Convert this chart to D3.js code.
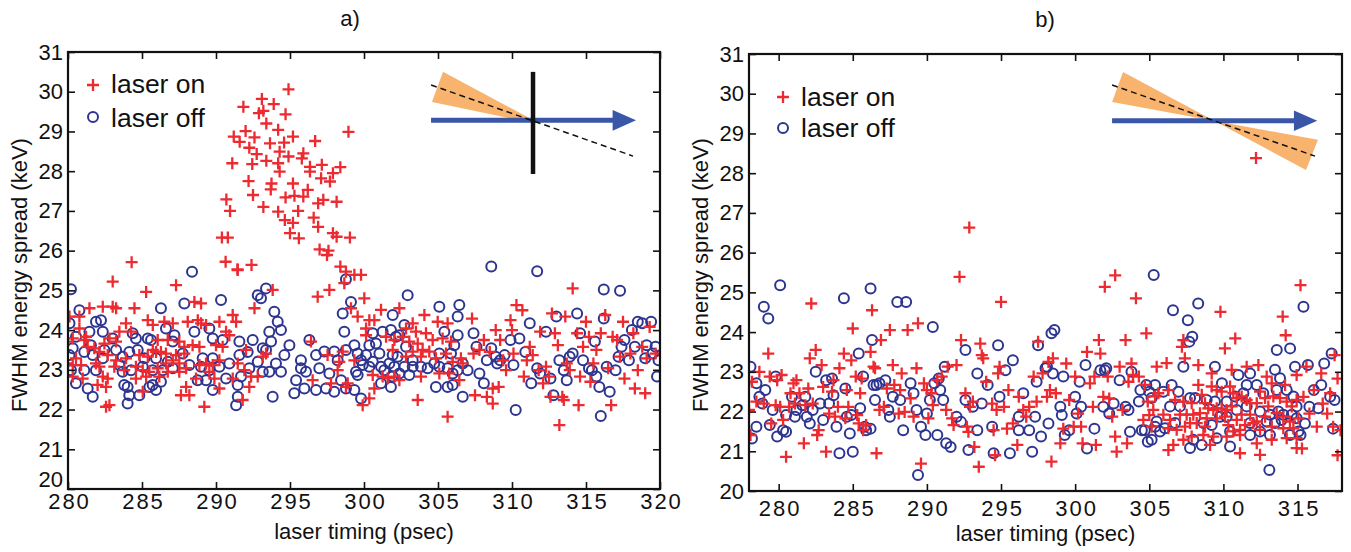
<!DOCTYPE html>
<html><head><meta charset="utf-8">
<script src="https://cdn.jsdelivr.net/npm/d3@7"></script>
<style>body{margin:0;background:#fff} text{font-family:"Liberation Sans",Arial,Helvetica,sans-serif;fill:#111}</style>
</head><body><svg id="c" width="1351" height="552"></svg>
<script>
// ---------------- data (x = laser timing psec, y = FWHM keV) ----------------
const aOn = [
[294.9,30.06],[291.85,29.62],[293.1,29.82],[293.9,29.69],[292.9,29.46],[293.2,29.52],[294.7,29.43],[293.4,29.2],[294.2,29.04],[292.0,29.01],[291.2,28.87],[291.6,28.74],[292.6,28.85],[295.2,28.87],[294.6,28.72],[293.65,28.7],[296.7,28.76],[292.25,28.59],[294.3,28.49],[295.9,28.45],[294.9,28.37],[292.75,28.43],[295.8,28.32],[291.1,28.2],[292.45,28.18],[293.4,28.26],[294.2,28.2],[296.35,28.11],[297.15,28.16],[298.4,28.1],[297.9,27.95],[296.35,27.99],[294.3,27.99],[297.1,27.82],[297.7,27.74],[292.2,27.75],[293.75,27.69],[295.2,27.69],[293.7,27.54],[296.2,27.53],[290.7,27.29],[292.5,27.4],[294.7,27.34],[295.3,27.38],[295.9,27.36],[297.25,27.28],[298.15,27.23],[290.95,27.0],[293.2,27.1],[294.2,26.98],[295.55,27.0],[296.9,27.19],[294.65,26.77],[295.2,26.7],[296.6,26.83],[296.9,26.6],[290.4,26.33],[290.8,26.33],[295.0,26.44],[295.6,26.31],[297.9,26.44],[299.05,26.33],[298.15,26.35],[297.0,26.03],[297.6,26.0],[297.5,25.89],[290.65,25.72],[291.45,25.53],[292.4,25.64],[298.4,25.6],[298.95,28.99],[284.3,25.71],
[283.02,25.22],[287.3,25.13],[285.28,24.96],[288.54,24.71],[288.99,24.67],[282.35,24.59],[283.02,24.59],[283.25,24.55],[281.45,24.55],[284.49,24.55],[292.6,24.55],[291.13,24.38],[280.1,24.34],[280.77,24.34],[291.36,24.21],[283.92,24.17],[285.39,24.25],[285.73,24.13],[286.51,24.21],[287.08,24.17],[288.09,24.21],[288.77,24.25],[288.99,24.17],[289.33,24.13],[290.23,24.21],[280.77,24.04],[283.47,23.96],[284.26,23.96],[282.8,23.79],[280.32,23.79],[281.1,23.75],[282.46,23.66],[283.25,23.71],[290.68,23.96],[290.9,23.87],[279.98,23.71],[281.33,23.58],[281.78,23.54],[282.12,23.45],[281.22,23.83],[286.06,23.75],[286.74,23.75],[287.52,23.71],[287.86,23.58],[288.42,23.62],[288.88,23.58],[290.0,23.62],[290.45,23.58],[292.03,23.5],[285.73,23.5],[285.95,23.45],[285.39,23.33],[286.28,23.45],[286.62,23.41],[287.3,23.37],[287.86,23.41],[284.82,23.37],[283.92,23.29],[283.25,23.24],[282.68,23.37],[280.54,23.29],[279.87,23.16],[280.32,23.12],[280.88,23.12],[281.89,23.16],[282.12,23.08],[283.13,23.08],[283.8,22.99],[284.59,23.08],[285.05,22.99],[285.5,22.95],[286.06,23.04],[286.62,23.16],[287.08,23.24],[287.52,23.16],[287.98,23.04],[288.88,23.12],[289.33,23.16],[289.78,23.12],[290.23,23.24],[291.47,23.16],[291.92,22.99],[280.32,22.83],[280.99,22.78],[282.35,22.83],[282.68,22.78],[284.59,22.78],[285.28,22.83],[286.17,22.83],[286.74,22.95],[287.52,22.95],[289.55,22.95],[289.89,22.78],[288.65,22.78],[291.13,22.78],[292.37,22.83],[292.82,22.83],[282.0,22.62],[282.57,22.57],[285.05,22.45],[287.63,22.36],[288.2,22.36],[287.98,22.57],[290.23,22.53],[292.25,22.57],[282.57,22.07],[282.8,22.11],[289.21,22.07],[291.8,22.24],[291.47,25.51],[293.16,23.33],
[298.78,25.47],[299.35,25.39],[299.8,25.39],[298.67,25.18],[293.83,25.01],[296.87,24.84],[297.66,25.01],[300.02,24.8],[299.12,24.55],[299.57,24.34],[301.15,24.51],[302.39,24.55],[304.08,24.38],[304.98,24.21],[305.65,24.17],[300.36,24.25],[300.14,24.04],[300.7,24.25],[296.42,23.71],[302.84,24.04],[303.29,24.17],[303.51,23.96],[304.19,23.92],[304.64,23.75],[305.31,23.79],[305.88,23.71],[301.49,23.83],[302.05,23.75],[302.61,23.83],[300.14,23.87],[303.06,23.71],[303.63,23.66],[303.96,23.5],[303.29,23.46],[302.84,23.33],[303.85,23.33],[304.41,23.46],[304.86,23.29],[305.54,23.41],[305.99,23.2],[306.55,23.29],[306.67,23.16],[301.94,23.5],[298.56,23.46],[297.54,23.37],[299.35,23.24],[298.33,23.2],[298.22,22.99],[296.53,22.74],[297.77,22.66],[298.78,22.57],[298.9,22.66],[300.59,22.87],[301.26,22.83],[301.6,22.79],[302.05,22.83],[302.39,22.74],[303.85,22.83],[305.09,22.91],[305.76,22.91],[306.44,22.74],[300.7,22.53],[300.36,22.28],[299.91,22.11],[303.63,22.24],[305.65,21.82],[293.38,23.41],
[307.3,24.29],[307.4,23.41],[307.5,22.36],[307.8,23.5],[308.1,23.75],[308.3,22.32],[308.5,23.45],[308.7,22.53],[308.7,22.15],[308.9,24.0],[309.1,22.57],[309.2,23.75],[309.4,23.24],[309.6,22.99],[309.9,24.25],[310.0,24.0],[310.1,23.41],[310.3,24.63],[310.7,24.5],[310.8,22.83],[311.0,23.24],[311.2,23.58],[311.4,23.37],[311.8,22.99],[311.9,23.96],[312.1,22.66],[312.3,23.08],[312.5,22.83],[312.6,22.32],[312.7,24.42],[312.9,23.92],[313.1,23.62],[313.2,21.61],[313.4,22.32],[313.5,22.24],[313.6,24.34],[313.7,23.16],[313.9,22.99],[314.1,25.05],[314.4,23.92],[314.5,22.11],[314.6,22.83],[314.8,23.58],[315.0,24.21],[315.2,23.83],[315.3,22.7],[315.5,23.16],[315.7,23.5],[316.0,23.92],[316.3,24.38],[316.5,23.04],[316.7,22.11],[316.8,23.83],[317.1,23.75],[317.3,23.33],[317.5,24.21],[317.6,22.78],[318.0,23.41],[318.2,23.92],[318.3,22.53],[318.5,22.99],[318.8,23.58],[319.0,22.41],[319.1,23.29],[319.3,24.08],[319.7,23.41]
];
const aOff = [
[280.2,25.03],[288.38,25.47],[286.28,24.55],[287.86,24.67],[290.34,24.76],[292.82,24.88],[293.04,24.8],[280.77,24.5],[281.89,24.21],[282.23,24.25],[282.35,23.96],[281.45,23.96],[280.1,24.17],[280.54,23.83],[283.02,23.79],[284.37,23.92],[284.59,23.79],[285.39,23.79],[285.61,23.75],[286.62,24.04],[287.19,23.87],[287.08,23.71],[288.54,23.96],[289.55,24.04],[289.78,23.79],[290.45,23.75],[291.58,23.71],[292.48,23.75],[293.16,23.54],[280.32,23.54],[280.1,23.37],[281.1,23.45],[281.55,23.62],[282.46,23.5],[283.25,23.5],[283.69,23.33],[284.14,23.45],[284.71,23.5],[285.16,23.29],[282.35,23.29],[281.67,23.37],[285.95,23.29],[286.74,23.2],[287.75,23.41],[289.1,23.29],[289.78,23.29],[290.9,23.16],[291.58,23.37],[292.14,23.45],[292.82,23.2],[280.2,22.99],[281.1,22.99],[281.89,22.99],[283.47,23.12],[283.69,22.95],[284.26,22.99],[285.05,23.08],[285.72,22.99],[286.4,22.99],[287.08,23.04],[288.2,23.12],[288.99,23.08],[289.55,22.99],[290.23,23.08],[292.25,23.04],[293.16,22.95],[280.54,22.66],[281.33,22.53],[281.67,22.32],[283.8,22.62],[284.03,22.57],[284.14,22.36],[285.5,22.57],[285.72,22.62],[285.95,22.49],[286.28,22.7],[288.76,22.74],[289.33,22.74],[290.68,22.78],[291.47,22.62],[291.69,22.83],[284.03,22.15],[291.47,22.32],[291.36,22.11],[289.78,22.49],[284.82,22.36],
[293.38,25.05],[293.94,24.46],[294.17,24.21],[294.39,24.0],[293.6,23.96],[293.72,23.71],[293.38,23.5],[294.96,23.62],[294.62,23.37],[294.05,23.16],[293.6,22.95],[294.39,22.95],[293.83,22.32],[295.74,23.24],[295.74,23.04],[296.08,22.95],[295.41,22.74],[295.97,22.53],[295.29,22.41],[296.98,23.04],[296.76,23.37],[297.32,23.46],[297.66,22.91],[297.99,23.46],[298.22,23.24],[298.78,23.5],[299.35,23.62],[299.57,23.41],[299.8,23.24],[299.91,23.12],[299.46,22.95],[299.57,22.87],[300.36,23.62],[300.14,23.37],[300.36,23.08],[300.59,23.2],[301.04,23.41],[301.15,23.08],[301.37,22.99],[301.71,23.16],[301.94,23.37],[302.05,23.08],[302.27,23.33],[302.39,22.91],[298.45,22.74],[297.99,22.45],[297.43,22.53],[296.76,22.49],[298.78,22.53],[299.35,22.49],[299.8,22.28],[300.59,23.92],[300.81,23.66],[301.26,23.96],[301.82,24.0],[302.16,23.83],[302.73,24.13],[302.39,23.87],[302.84,23.58],[303.29,23.24],[302.73,23.08],[303.29,23.08],[303.85,23.08],[304.3,23.04],[304.75,23.16],[305.09,23.08],[305.65,23.04],[305.99,22.91],[306.33,22.99],[306.67,23.16],[305.09,23.41],[305.88,23.41],[306.1,23.62],[306.33,23.87],[305.43,23.96],[305.09,24.59],[306.44,24.63],[306.33,24.34],[302.95,24.88],[301.94,24.38],[299.12,24.71],[298.56,24.42],[298.78,25.28],[296.31,23.75],[298.67,23.96],[301.15,22.66],[301.82,22.57],[301.94,22.83],[303.06,22.87],[304.86,22.57],[305.65,22.57],[305.99,22.62],[306.67,22.32],
[307.0,22.99],[307.4,23.92],[307.6,23.58],[307.8,22.91],[308.1,22.66],[308.3,23.24],[308.6,23.54],[308.9,23.33],[309.0,23.16],[309.2,23.24],[309.5,23.37],[309.9,23.75],[310.1,23.12],[310.25,21.99],[310.5,23.79],[310.9,23.45],[311.2,24.17],[311.3,22.66],[311.7,23.04],[311.9,22.91],[312.3,23.96],[312.6,22.78],[312.8,22.36],[313.0,24.34],[313.2,23.24],[313.5,22.99],[313.7,22.74],[313.9,23.33],[314.1,23.41],[314.4,24.42],[314.6,23.92],[314.8,23.24],[315.2,23.04],[315.4,22.99],[315.6,23.71],[315.7,22.83],[315.9,22.57],[316.0,21.84],[316.2,24.29],[316.4,23.08],[316.6,22.45],[317.0,22.99],[317.2,23.33],[317.4,23.58],[317.6,23.75],[317.9,23.24],[318.1,24.0],[318.3,23.58],[318.5,24.21],[318.8,24.17],[319.0,23.29],[319.1,23.62],[319.4,24.21],[319.5,23.41],[319.7,23.58],[319.9,23.24],[319.8,22.83],[316.2,25.02],[317.3,24.99],[308.6,25.6],[311.7,25.48]
];
const bOn = [
[292.86,26.63],[312.2,28.38],
[278.0,22.04],[278.1,21.41],[278.2,22.75],[278.5,22.25],[278.7,23.0],[279.0,22.2],[279.3,23.46],[279.4,22.88],[279.5,21.7],[279.8,22.16],[279.9,22.79],[280.1,22.12],[280.2,22.92],[280.3,21.79],[280.5,20.86],[280.7,22.12],[280.8,22.46],[281.0,22.71],[281.1,22.2],[281.2,22.79],[281.4,22.46],[281.7,21.2],[281.8,22.16],[282.0,22.58],[282.1,23.34],[282.2,24.72],[282.3,22.2],[282.5,23.55],[282.6,21.41],[282.7,21.53],[282.9,23.17],[283.0,22.62],[283.2,20.99],[283.4,21.95],[283.6,22.5],[283.7,22.79],[283.8,21.87],[284.0,22.12],[284.1,23.09],[284.4,23.46],[284.5,21.83],[284.6,22.54],[284.7,22.12],[284.9,23.29],[285.0,24.09],[285.2,22.88],[285.3,21.91],[285.4,21.7],[285.5,22.46],[285.6,22.83],[285.7,21.53],[285.9,21.66],[286.2,23.5],[286.3,24.55],[286.4,23.13],[286.5,23.09],[286.6,20.95],[286.8,22.04],[286.9,23.8],[287.1,22.12],[287.3,22.58],[287.5,24.05],[287.7,23.17],[287.8,22.67],[288.1,21.95],[288.2,22.54],[288.3,22.96],[288.5,21.99],[288.7,24.05],[288.9,22.33],[289.1,21.87],[289.3,23.09],[289.4,24.22],[289.6,20.69],[289.8,22.71],[290.0,22.54],[290.1,21.83],[290.3,22.46],[290.4,22.16],[290.7,22.79],[291.0,22.88],[291.3,22.04],[291.4,23.13],[291.7,21.83],[291.8,21.66],[292.0,23.17],[292.2,25.39],[292.3,23.8],[292.6,22.46],[292.7,21.62],[292.8,21.49],[292.9,22.12],[293.1,22.25],[293.2,21.11],[293.5,20.61],[293.6,23.71],[293.7,23.42],[293.8,23.34],[294.0,22.75],[294.4,22.2],[294.5,21.53],[294.6,20.9],[294.7,22.04],[294.8,22.96],[294.9,23.13],[295.0,24.76],[295.2,22.12],[295.4,21.57],[295.5,22.54],[295.8,21.7],[296.1,21.16],[296.2,22.37],
[296.5,22.04],[296.7,21.87],[296.9,22.12],[297.2,22.88],[297.4,22.25],[297.5,23.76],[297.8,22.96],[298.1,22.37],[298.2,23.25],[298.3,22.54],[298.4,20.74],[298.5,23.34],[298.7,22.46],[299.0,21.2],[299.2,21.57],[299.4,23.21],[299.6,22.29],[299.9,21.62],[300.0,22.88],[300.2,21.95],[300.4,21.62],[300.5,21.2],[300.8,23.5],[301.0,22.71],[301.2,22.12],[301.3,22.88],[301.4,21.16],[301.6,23.8],[301.7,23.46],[301.9,22.37],[302.2,22.88],[302.3,22.33],[302.0,25.14],[302.7,25.43],[302.5,21.87],[302.7,21.37],[302.8,20.99],[303.0,23.13],[303.2,22.04],[303.4,23.8],[303.5,21.2],[303.6,22.75],[303.8,23.21],[303.9,22.92],[304.1,24.85],[304.3,22.88],[304.6,21.79],[304.7,22.67],[304.8,23.97],[304.9,22.25],[305.0,21.91],
[307.2,23.63],[307.3,23.8],[307.4,23.34],[309.8,24.51],[310.1,23.59],[310.8,23.84],[314.0,24.39],[314.2,23.92],[315.2,25.18],
[305.5,23.13],[306.17,23.22],[308.31,23.17],[309.21,22.96],[310.56,23.05],[311.57,23.13],[312.36,23.17],[312.92,22.88],[313.26,22.71],[314.16,22.67],[314.94,22.92],[305.39,22.38],[305.61,22.46],[306.29,22.54],[306.74,22.29],[307.3,22.25],[307.86,22.21],[308.31,22.67],[308.54,22.42],[308.76,22.21],[309.21,22.63],[309.55,22.54],[309.88,22.5],[310.45,22.63],[310.67,22.46],[308.98,22.08],[309.32,22.04],[309.55,22.08],[309.88,22.08],[310.22,22.04],[310.56,22.13],[310.9,22.34],[311.23,22.38],[311.57,22.29],[311.8,22.21],[312.25,22.21],[312.47,22.5],[312.81,22.34],[313.03,22.13],[313.37,22.38],[313.82,22.34],[314.27,22.25],[314.61,22.13],[314.94,22.29],[305.27,22.04],[305.95,21.92],[306.4,21.79],[307.07,21.92],[307.52,21.92],[307.97,21.92],[308.42,21.96],[308.87,21.83],[309.55,21.83],[310.11,21.87],[310.9,21.79],[311.23,21.92],[311.8,21.92],[312.25,21.75],[312.81,21.87],[313.59,21.96],[314.04,21.87],[314.49,21.75],[315.06,21.83],[305.16,21.62],[306.29,21.58],[306.85,21.54],[307.41,21.62],[307.75,21.71],[308.2,21.71],[308.76,21.62],[310.33,21.66],[310.67,21.5],[311.12,21.54],[311.46,21.66],[312.02,21.71],[312.47,21.54],[313.26,21.62],[314.04,21.58],[314.72,21.58],[307.3,21.29],[307.86,21.37],[308.65,21.41],[309.32,21.37],[310.22,21.37],[311.12,21.41],[312.25,21.2],[313.26,21.29],[314.27,21.33],[314.94,21.33],[306.62,21.16],[306.29,21.03],[309.1,21.16],[311.12,20.95],[312.47,20.91],[314.94,21.08],
[315.3,21.07],[315.4,22.37],[315.6,23.13],[315.8,21.95],[316.1,22.54],[316.3,21.62],[316.6,22.96],[316.7,22.2],[317.0,21.95],[317.2,22.46],[317.4,21.62],[317.5,23.42],[317.7,22.83],[317.9,21.53],[317.7,20.9]
];
const bOff = [
[278.1,23.13],[278.2,21.32],[278.5,22.71],[278.7,22.37],[278.5,21.62],[278.9,22.2],[279.0,24.64],[279.3,24.34],[279.1,22.54],[279.4,21.66],[279.6,22.04],[279.8,22.88],[279.9,21.37],[280.1,25.18],[280.3,21.53],[280.5,21.49],[280.5,21.91],[280.9,22.37],[281.1,21.87],[281.2,22.04],[281.6,22.16],[281.8,22.37],[281.9,21.87],[282.1,21.7],[282.3,22.04],[282.5,23.0],[282.8,22.2],[283.0,21.79],[283.2,22.79],[283.4,22.2],[283.6,22.83],[283.7,22.41],[283.9,21.62],[284.1,20.95],[284.4,24.85],[284.5,22.58],[284.6,21.87],[284.8,21.45],[284.9,21.91],[285.0,20.99],[285.4,23.46],[285.5,22.08],[285.7,22.88],[285.8,21.62],[285.9,21.53],[286.2,21.57],[286.2,25.1],[286.3,23.8],[286.4,22.67],[286.5,22.29],[286.6,22.67],[286.8,22.71],[287.2,22.79],[287.4,22.04],[287.5,21.87],[287.7,22.37],[288.0,24.76],[288.2,22.29],[288.4,21.53],[288.6,24.76],[288.9,22.71],[289.1,22.46],[289.3,22.04],[289.4,20.4],[289.6,21.62],[289.9,21.41],[290.0,21.95],[290.2,22.29],[290.4,24.13],[290.5,22.71],[290.7,21.41],[290.8,22.83],[290.9,22.54],[291.1,22.29],[291.2,23.13],[291.3,21.2],[291.6,21.11],[292.0,21.87],[292.3,21.74],[292.6,22.29],[292.6,23.55],[292.8,21.03],[293.1,22.12],[293.4,21.53],[293.4,22.96],[293.7,22.2],[294.1,22.67],[294.4,21.62],[294.5,20.95],[294.8,23.67],[294.9,22.37],[295.3,23.04],[295.6,20.95],[295.8,23.29],[296.2,21.87],[296.2,21.53],
[296.5,22.46],[296.9,21.53],[297.1,20.99],[297.3,21.87],[297.5,23.67],[297.4,22.75],[297.7,21.37],[298.0,23.09],[298.1,23.13],[298.2,21.7],[298.4,23.97],[298.6,24.05],[298.5,22.96],[299.0,22.12],[299.1,21.91],[299.2,22.88],[299.3,21.41],[299.6,21.53],[300.0,22.37],[300.1,21.95],[300.3,22.75],[300.4,22.12],[300.7,23.17],[300.8,21.07],[301.3,21.57],[301.7,23.04],[301.9,22.12],[302.0,23.04],[302.1,23.09],[302.3,21.95],[302.6,22.2],[303.0,22.79],[303.4,22.12],[303.6,22.04],[303.7,21.49],[303.8,23.0],[304.3,22.25],[304.4,22.54],[304.5,21.53],[304.7,21.53],[304.8,22.67],[304.9,21.24],[305.0,22.5],
[306.6,24.55],[307.6,24.3],[307.7,23.76],[307.9,23.88],[308.3,24.72],[313.1,20.53],[313.6,23.55],[314.5,23.59],
[307.3,23.13],[309.43,23.13],[311.01,22.92],[311.8,22.96],[313.48,23.05],[314.83,23.13],[305.39,22.67],[306.51,22.67],[306.96,22.5],[305.95,22.5],[305.16,22.34],[309.9,22.71],[310.78,22.38],[311.35,22.46],[311.57,22.67],[312.25,22.67],[312.69,22.46],[313.59,22.54],[313.82,22.84],[314.27,22.54],[314.72,22.38],[314.94,22.13],[306.4,22.13],[307.07,22.13],[307.75,22.34],[308.09,22.34],[308.87,22.29],[309.43,22.25],[310.22,22.25],[310.9,22.04],[311.57,22.13],[312.47,22.0],[313.14,21.92],[313.71,22.0],[314.04,21.92],[314.61,21.92],[314.94,21.83],[305.5,21.75],[305.39,21.62],[306.06,21.58],[306.74,21.71],[308.65,21.71],[309.21,21.66],[309.77,21.87],[310.22,21.87],[311.8,21.71],[312.92,21.75],[313.48,21.71],[313.93,21.79],[305.72,21.5],[305.16,21.29],[307.97,21.29],[309.55,21.33],[310.45,21.5],[311.8,21.41],[312.47,21.5],[313.14,21.41],[314.49,21.41],[315.06,21.5],[307.75,21.08],[308.54,21.16],[310.45,21.12],
[315.2,21.41],[315.4,24.64],[315.5,21.7],[315.7,23.17],[315.8,22.12],[316.1,22.54],[316.4,22.08],[316.6,22.67],[316.8,23.21],[317.2,22.37],[317.3,23.46],[317.4,21.57],[317.5,22.29],[305.3,25.44]
];
const xTicksA = [280,285,290,295,300,305,310,315,320];
const xTicksB = [280,285,290,295,300,305,310,315];
const yTicks = [20,21,22,23,24,25,26,27,28,29,30,31];
const legendLabels = ["laser on","laser off"];
const titles = ["a)","b)"];
const xLabel = "laser timing (psec)";
const yLabel = "FWHM energy spread (keV)";
// inset sketches, in data units
const insetAWedge = [[305.34,30.50],[311.42,29.29],[311.42,29.21],[304.59,29.74]];
const insetADash = [[304.53,30.17],[318.18,28.38]];
const insetAArrow = [304.53,316.8,318.38,29.28,0.26];   // x0, head base, tip, y, half height
const insetABar = [311.42,30.50,27.93];
const insetBWedge = [[303.23,30.55],[315.57,28.08],[316.38,28.84],[302.49,29.79]];
const insetBDash = [[302.49,30.22],[316.18,28.43]];
const insetBArrow = [302.49,314.76,316.33,29.32,0.26];

// ---------------- drawing ----------------
const RED = '#ec2a30', BLUE = '#2d3590', ORANGE = '#f8b46e', ARROW = '#3a57a7';
const svg = d3.select('#c');
const defs = svg.append('defs');
const FONT = '"Liberation Sans",Arial,sans-serif';

function panel(o){
  const x = d3.scaleLinear().domain(o.xDomain).range([o.l, o.r]);
  const y = d3.scaleLinear().domain([20,31]).range([o.b, o.t]);
  const g = svg.append('g');
  const cid = 'clip' + o.id;
  defs.append('clipPath').attr('id', cid).append('rect')
    .attr('x', o.l).attr('y', o.t).attr('width', o.r - o.l).attr('height', o.b - o.t);

  // inset sketch
  const ins = g.append('g');
  const line = d3.line().x(d => x(d[0])).y(d => y(d[1]));
  ins.append('path').attr('d', line(o.wedge) + 'Z').attr('fill', ORANGE).attr('stroke', 'none');
  const ar = o.arrow;
  ins.append('line').attr('x1', x(ar[0])).attr('x2', x(ar[1]) + 1).attr('y1', y(ar[3])).attr('y2', y(ar[3]))
    .attr('stroke', ARROW).attr('stroke-width', 5);
  ins.append('path').attr('d', line([[ar[1], ar[3] + ar[4]], [ar[2], ar[3]], [ar[1], ar[3] - ar[4]]]) + 'Z')
    .attr('fill', ARROW);
  ins.append('path').attr('d', line(o.dash)).attr('fill', 'none').attr('stroke', '#111')
    .attr('stroke-width', 1.5).attr('stroke-dasharray', '6,4');
  if (o.bar) {
    ins.append('line').attr('x1', x(o.bar[0])).attr('x2', x(o.bar[0]))
      .attr('y1', y(o.bar[1])).attr('y2', y(o.bar[2])).attr('stroke', '#111').attr('stroke-width', 4.5);
  }

  // points
  const pts = g.append('g').attr('clip-path', `url(#${cid})`);
  pts.selectAll('circle').data(o.off).join('circle')
    .attr('cx', d => x(d[0])).attr('cy', d => y(d[1])).attr('r', 5)
    .attr('fill', 'none').attr('stroke', BLUE).attr('stroke-width', 2);
  const h = 6;
  pts.selectAll('path.p').data(o.on).join('path').attr('class', 'p')
    .attr('d', d => `M${x(d[0]) - h},${y(d[1])}H${x(d[0]) + h}M${x(d[0])},${y(d[1]) - h}V${y(d[1]) + h}`)
    .attr('stroke', RED).attr('stroke-width', 2.3).attr('fill', 'none');

  // axes (ticks inward on all four sides)
  const ax = (gen, tr, labels) => {
    const a = g.append('g').attr('transform', tr).call(gen);
    a.select('.domain').remove();
    a.selectAll('.tick line').attr('stroke', '#111').attr('stroke-width', 1.6);
    if (!labels) a.selectAll('text').remove();
    return a;
  };
  const bx = ax(d3.axisBottom(x).tickValues(o.xTicks).tickSize(-7).tickPadding(o.xPad).tickFormat(d3.format('d')),
    `translate(0,${o.b})`, true);
  bx.selectAll('text').attr('font-size', 22).attr('letter-spacing', '2px').attr('fill', '#111')
    .attr('font-family', FONT).attr('dx', '1px');
  ax(d3.axisTop(x).tickValues(o.xTicks).tickSize(-7), `translate(0,${o.t})`, false);
  const ly = ax(d3.axisLeft(y).tickValues(yTicks).tickSize(-7).tickPadding(5).tickFormat(d3.format('d')),
    `translate(${o.l},0)`, true);
  ly.selectAll('text').attr('font-size', 22).attr('fill', '#111').attr('font-family', FONT);
  ly.selectAll('.tick').filter(d => d === 20).select('text').attr('dy', o.y20dy);
  ax(d3.axisRight(y).tickValues(yTicks).tickSize(-7), `translate(${o.r},0)`, false);

  // frame
  g.append('rect').attr('x', o.l).attr('y', o.t).attr('width', o.r - o.l).attr('height', o.b - o.t)
    .attr('fill', 'none').attr('stroke', '#111').attr('stroke-width', 2.2);

  // legend
  const lg = g.append('g');
  lg.append('path').attr('d', `M${o.l + o.lgx - 6},${o.t + o.lgy1}H${o.l + o.lgx + 6}M${o.l + o.lgx},${o.t + o.lgy1 - 6}V${o.t + o.lgy1 + 6}`)
    .attr('stroke', RED).attr('stroke-width', 2.3);
  lg.append('circle').attr('cx', o.l + o.lgx).attr('cy', o.t + o.lgy2).attr('r', 5)
    .attr('fill', 'none').attr('stroke', BLUE).attr('stroke-width', 2);
  lg.append('text').attr('x', o.l + o.lgt).attr('y', o.t + o.lgb1).attr('font-size', 26.5).text(legendLabels[0]);
  lg.append('text').attr('x', o.l + o.lgt).attr('y', o.t + o.lgb2).attr('font-size', 26.5).text(legendLabels[1]);

  // labels
  g.append('text').attr('x', (o.l + o.r) / 2).attr('y', o.xlb).attr('text-anchor', 'middle')
    .attr('font-size', 22).text(xLabel);
  g.append('text').attr('transform', `translate(${o.ylx},${o.yly}) rotate(-90)`).attr('text-anchor', 'middle')
    .attr('font-size', 22).text(yLabel);
  g.append('text').attr('x', o.tx).attr('y', o.ty).attr('text-anchor', 'middle')
    .attr('font-size', 22).text(o.title);
}

panel({id:'a', l:68, r:660, t:52, b:489, xDomain:[280,320], xTicks:xTicksA, xPad:4, y20dy:'-0.1em',
  on:aOn, off:aOff, wedge:insetAWedge, dash:insetADash, arrow:insetAArrow, bar:insetABar,
  lgx:25, lgy1:33, lgy2:65, lgt:43, lgb1:41, lgb2:75,
  xlb:539, ylx:27, yly:275, tx:350, ty:26, title:titles[0]});
panel({id:'b', l:749, r:1342, t:54, b:491, xDomain:[278,318], xTicks:xTicksB, xPad:9, y20dy:'0.32em',
  on:bOn, off:bOff, wedge:insetBWedge, dash:insetBDash, arrow:insetBArrow, bar:null,
  lgx:34, lgy1:43, lgy2:74, lgt:52, lgb1:52, lgb2:83,
  xlb:541, ylx:708, yly:275, tx:1045, ty:27, title:titles[1]});
</script>
</body></html>
